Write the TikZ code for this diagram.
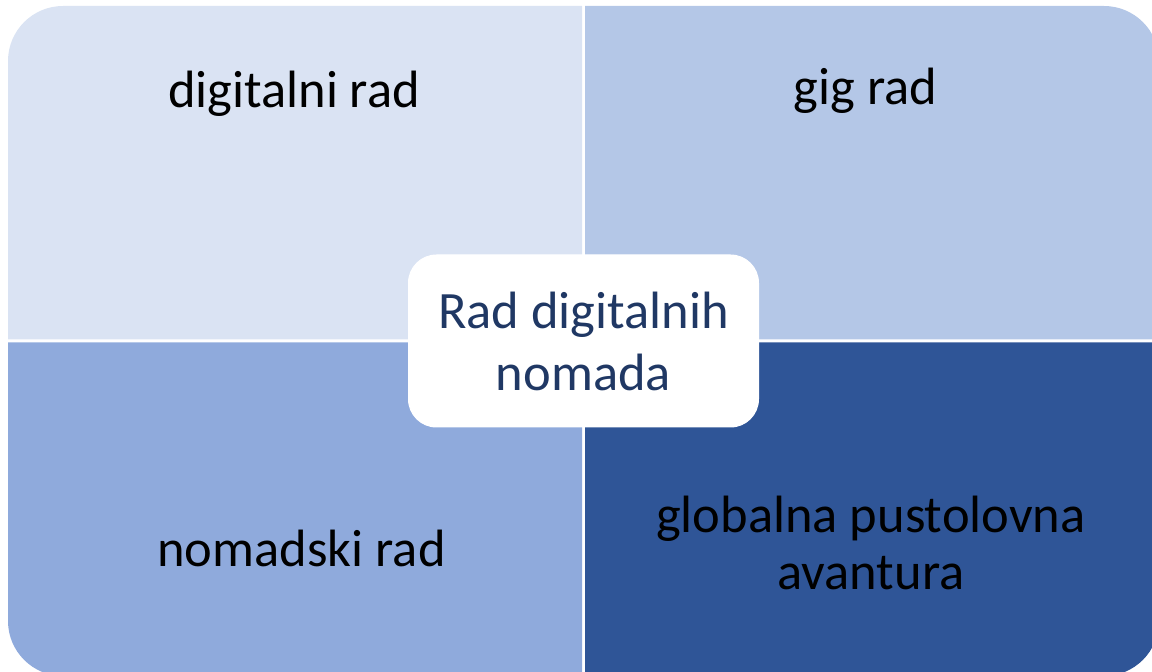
\documentclass[tikz,border=0pt]{standalone}
\usepackage{fontspec}
\setmainfont{Carlito}
\usetikzlibrary{positioning}
\definecolor{quadA}{HTML}{DAE3F3}
\definecolor{quadB}{HTML}{B4C7E7}
\definecolor{quadC}{HTML}{8FAADC}
\definecolor{quadD}{HTML}{2F5597}
\definecolor{hubtext}{HTML}{203864}

\begin{document}
\begin{tikzpicture}[x=1pt,y=1pt]

\tikzstyle{every node}=[inner sep=0pt, align=center, font=\fontsize{52.5}{62}\selectfont]
\tikzstyle{label}=[anchor=base, text=black]
\tikzstyle{hub}=[rectangle, fill=white, draw=white, line width=1pt, rounded corners=28pt,
    minimum width=350pt, minimum height=172pt, text=hubtext]

\useasboundingbox (0,0) rectangle (1152,672);
\clip (0,0) rectangle (1152,672);

% four quadrants, each with one rounded outer corner
\fill[quadA] (582,332.5) -- (8,332.5) -- (8,611) arc[start angle=180,end angle=90,radius=55] -- (582,666) -- cycle;
\fill[quadB] (585,332.5) -- (585,666) -- (1104,666) arc[start angle=90,end angle=0,radius=55] -- (1159,332.5) -- cycle;
\fill[quadC] (582,329.5) -- (8,329.5) -- (8,51) arc[start angle=180,end angle=270,radius=55] -- (582,-4) -- cycle;
\fill[quadD] (585,329.5) -- (585,-4) -- (1104,-4) arc[start angle=270,end angle=360,radius=55] -- (1159,329.5) -- cycle;

\foreach \x/\y/\t/\n in {294/564.5/{digitalni rad}/digital, 865.5/567/{gig rad}/gig,
    301.5/105/{nomadski rad}/nomad} {
    \node[label] at (\x,\y) (\n) {\t};
}
\node[label, font=\fontsize{52.5}{57}\selectfont] at (871,82) (global) {globalna pustolovna\\avantura};

\node[hub] at (583.5,331) (center) {Rad digitalnih\\nomada};

\end{tikzpicture}
\end{document}
